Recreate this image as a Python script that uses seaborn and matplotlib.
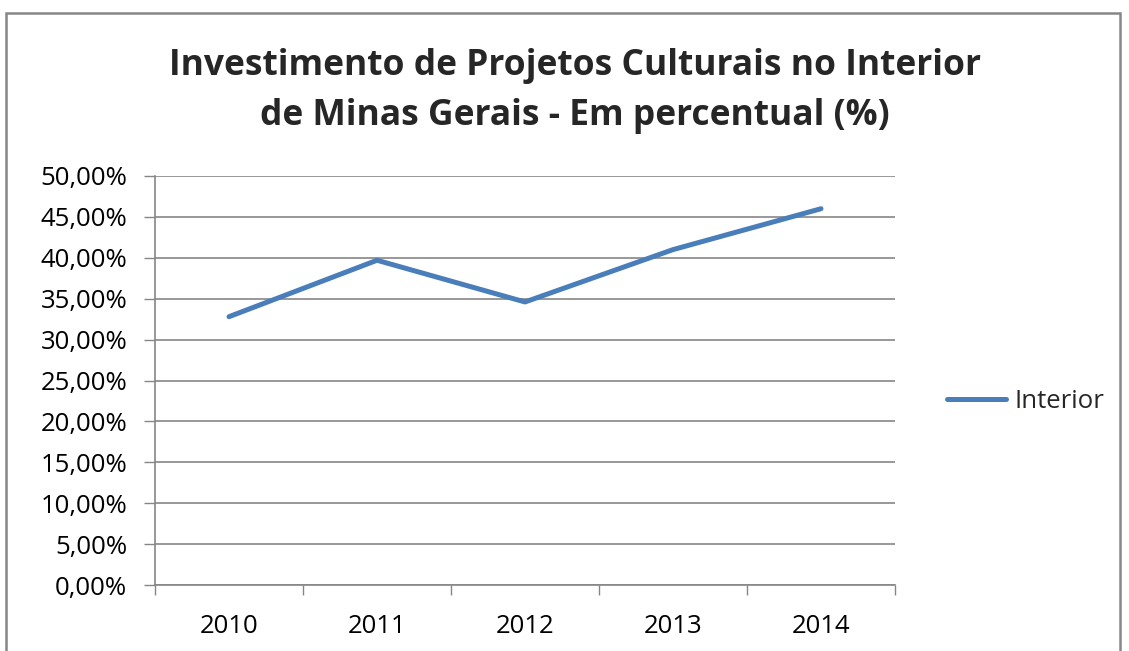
import pandas as pd
import matplotlib.pyplot as plt
import matplotlib as mpl
import seaborn as sns
from matplotlib.ticker import FixedLocator, FuncFormatter

# data ------------------------------------------------
years = ["2010", "2011", "2012", "2013", "2014"]
interior = [32.8, 39.7, 34.6, 41.0, 46.0]   # percent

df = pd.DataFrame({"Ano": years, "Interior": interior})

# style -----------------------------------------------
sns.set_style("white")
plt.rcParams["font.family"] = ["Open Sans", "DejaVu Sans"]

fig = plt.figure(figsize=(11.29, 6.51), dpi=100)
ax = fig.add_axes([155/1129, 1 - 585/651, (895-155)/1129, (585-176)/651])

# outer chart frame
fig.patches.append(mpl.patches.Rectangle((6/1129, -0.01), (1120-6)/1129, 1 - 13/651 + 0.01,
                                         transform=fig.transFigure, fill=False,
                                         edgecolor="#878787", linewidth=1.8))

sns.lineplot(data=df, x="Ano", y="Interior", ax=ax, color="#4A7EBB",
             linewidth=3.6, label="Interior", solid_capstyle="round", sort=False)

ax.set_xlim(-0.5, 4.5)
ax.set_ylim(0, 50)
ax.set_yticks(range(0, 51, 5))
ax.yaxis.set_major_formatter(FuncFormatter(lambda v, p: f"{v:.2f}%".replace(".", ",")))
ax.grid(axis="y", color="#868686", linewidth=1.2)
ax.set_axisbelow(True)

ax.xaxis.set_minor_locator(FixedLocator([i - 0.5 for i in range(6)]))
ax.tick_params(axis="x", which="major", length=0, pad=21, labelsize=18.5, colors="#000000")
ax.tick_params(axis="x", which="minor", length=7, width=1, color="#868686", direction="out")
ax.tick_params(axis="y", length=8, width=1, color="#868686", direction="out", pad=12,
               labelsize=18.5, labelcolor="#000000")
ax.tick_params(axis="x", bottom=True, which="both")
ax.tick_params(axis="y", left=True)

for s in ("top", "right"):
    ax.spines[s].set_visible(False)
for s in ("left", "bottom"):
    ax.spines[s].set_color("#868686")
    ax.spines[s].set_linewidth(1.2)

ax.set_xlabel("")
ax.set_ylabel("")

fig.text(575/1129, 1 - 91/651, "Investimento de Projetos Culturais no Interior\nde Minas Gerais - Em percentual (%)",
         ha="center", va="center", fontsize=25.5, fontweight="bold", linespacing=1.55)

ax.legend(loc="center left", bbox_to_anchor=(937/1129, 1 - 401/651), bbox_transform=fig.transFigure,
          frameon=False, fontsize=18.5, handlelength=2.3, handletextpad=0.3, borderaxespad=0)

plt.savefig("out.png", dpi=100)
